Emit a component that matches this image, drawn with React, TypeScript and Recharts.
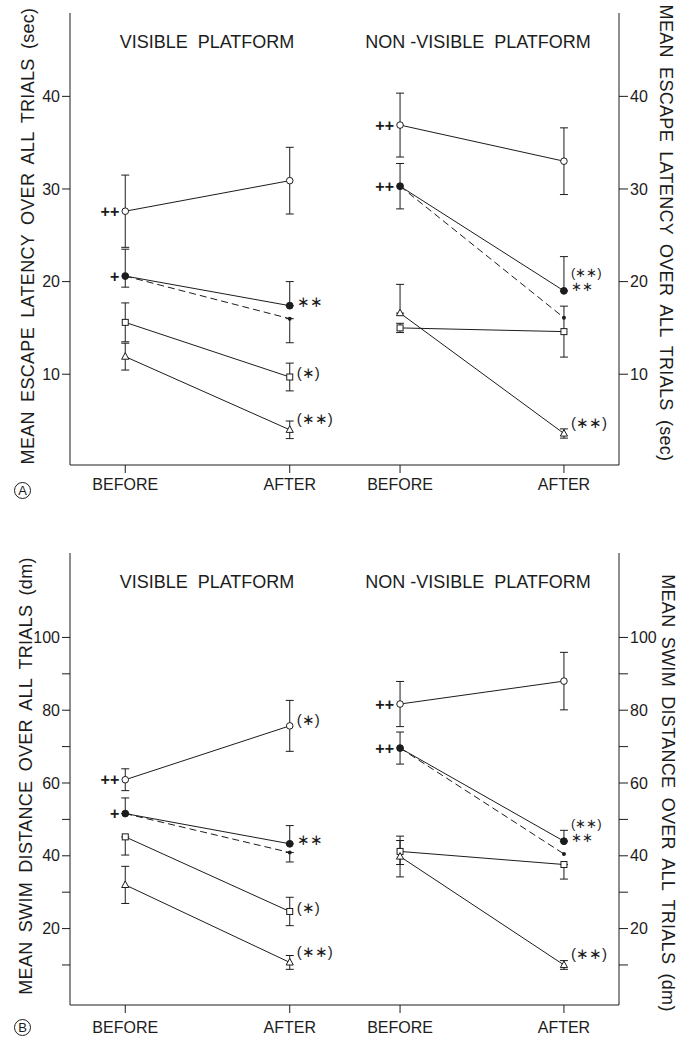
import React from 'react';
import { LineChart, Line, XAxis, YAxis, ErrorBar, LabelList } from 'recharts';

const FONT = '"Liberation Sans", Arial, sans-serif';
const INK = '#1c1c1c';

// x axis phases
const phases = ['BEFORE', 'AFTER'];

// y ticks
const latencyTicks = [10, 20, 30, 40];
const distanceTicks = [10, 20, 30, 40, 50, 60, 70, 80, 90, 100];
const distanceLabels = [20, 40, 60, 80, 100];

// (A) escape latency, visible platform
const latVisOpen = [27.6, 30.9];
const latVisOpenErr = [3.9, 3.6];
const latVisOpenNote = ['++', ''];
const latVisFilled = [20.6, 17.4];
const latVisFilledErr = [[1.2, 2.9], [0, 2.6]];
const latVisFilledNote = ['+', '∗∗'];
const latVisDashed = [20.6, 16.0];
const latVisDashedErr = [null, [2.6, 0]];
const latVisSquare = [15.6, 9.7];
const latVisSquareErr = [2.1, 1.5];
const latVisSquareNote = ['', '(∗)'];
const latVisTriangle = [11.9, 4.0];
const latVisTriangleErr = [1.45, 0.95];
const latVisTriangleNote = ['', '(∗∗)'];

// (A) escape latency, non-visible platform
const latNonOpen = [36.9, 33.0];
const latNonOpenErr = [3.45, 3.6];
const latNonOpenNote = ['++', ''];
const latNonFilled = [30.3, 19.0];
const latNonFilledErr = [2.45, [0, 3.7]];
const latNonFilledNote = ['++', '(∗∗)\n∗∗'];
const latNonDashed = [30.3, 16.1];
const latNonDashedErr = [null, null];
const latNonSquare = [15.0, 14.6];
const latNonSquareErr = [0.5, 2.75];
const latNonTriangle = [16.6, 3.6];
const latNonTriangleErr = [[0, 3.1], 0.5];
const latNonTriangleNote = ['', '(∗∗)'];

// (B) swim distance, visible platform
const distVisOpen = [60.9, 75.7];
const distVisOpenErr = [3.0, 7.0];
const distVisOpenNote = ['++', '(∗)'];
const distVisFilled = [51.6, 43.3];
const distVisFilledErr = [[0, 4.3], [0, 5.0]];
const distVisFilledNote = ['+', '∗∗'];
const distVisDashed = [51.6, 40.9];
const distVisDashedErr = [null, [2.6, 0]];
const distVisSquare = [45.2, 24.7];
const distVisSquareErr = [[5.0, 0], 3.9];
const distVisSquareNote = ['', '(∗)'];
const distVisTriangle = [32.0, 10.7];
const distVisTriangleErr = [5.1, 1.9];
const distVisTriangleNote = ['', '(∗∗)'];

// (B) swim distance, non-visible platform
const distNonOpen = [81.7, 88.0];
const distNonOpenErr = [6.2, 7.9];
const distNonOpenNote = ['++', ''];
const distNonFilled = [69.6, 44.0];
const distNonFilledErr = [4.4, [0, 3.0]];
const distNonFilledNote = ['++', '(∗∗)\n∗∗'];
const distNonDashed = [69.6, 40.5];
const distNonDashedErr = [null, null];
const distNonSquare = [41.2, 37.6];
const distNonSquareErr = [[3.6, 3.0], [4.0, 0]];
const distNonTriangle = [39.8, 10.0];
const distNonTriangleErr = [5.6, 1.2];
const distNonTriangleNote = ['', '(∗∗)'];

type Series = { key: string; values: number[]; errors: any[]; notes?: string[] };

const toRows = (series: Series[]) =>
  phases.map((phase, i) => {
    const row: any = { x: i, phase };
    series.forEach((s) => {
      row[s.key] = s.values[i];
      row[`${s.key}Err`] = s.errors[i];
      row[`${s.key}Note`] = s.notes ? s.notes[i] : '';
    });
    return row;
  });

const latVisRows = toRows([
  { key: 'open', values: latVisOpen, errors: latVisOpenErr, notes: latVisOpenNote },
  { key: 'filled', values: latVisFilled, errors: latVisFilledErr, notes: latVisFilledNote },
  { key: 'dashed', values: latVisDashed, errors: latVisDashedErr },
  { key: 'square', values: latVisSquare, errors: latVisSquareErr, notes: latVisSquareNote },
  { key: 'triangle', values: latVisTriangle, errors: latVisTriangleErr, notes: latVisTriangleNote },
]);
const latNonRows = toRows([
  { key: 'open', values: latNonOpen, errors: latNonOpenErr, notes: latNonOpenNote },
  { key: 'filled', values: latNonFilled, errors: latNonFilledErr, notes: latNonFilledNote },
  { key: 'dashed', values: latNonDashed, errors: latNonDashedErr },
  { key: 'square', values: latNonSquare, errors: latNonSquareErr },
  { key: 'triangle', values: latNonTriangle, errors: latNonTriangleErr, notes: latNonTriangleNote },
]);
const distVisRows = toRows([
  { key: 'open', values: distVisOpen, errors: distVisOpenErr, notes: distVisOpenNote },
  { key: 'filled', values: distVisFilled, errors: distVisFilledErr, notes: distVisFilledNote },
  { key: 'dashed', values: distVisDashed, errors: distVisDashedErr },
  { key: 'square', values: distVisSquare, errors: distVisSquareErr, notes: distVisSquareNote },
  { key: 'triangle', values: distVisTriangle, errors: distVisTriangleErr, notes: distVisTriangleNote },
]);
const distNonRows = toRows([
  { key: 'open', values: distNonOpen, errors: distNonOpenErr, notes: distNonOpenNote },
  { key: 'filled', values: distNonFilled, errors: distNonFilledErr, notes: distNonFilledNote },
  { key: 'dashed', values: distNonDashed, errors: distNonDashedErr },
  { key: 'square', values: distNonSquare, errors: distNonSquareErr },
  { key: 'triangle', values: distNonTriangle, errors: distNonTriangleErr, notes: distNonTriangleNote },
]);

// markers
const OpenCircle = (p: any) => (
  <circle key={`oc${p.index}`} cx={p.cx} cy={p.cy} r={3.3} fill="#fff" stroke={INK} strokeWidth={1} />
);
const FilledCircle = (p: any) => (
  <circle key={`fc${p.index}`} cx={p.cx} cy={p.cy} r={3.4} fill={INK} stroke={INK} strokeWidth={1} />
);
const SmallDot = (p: any) => <circle key={`sd${p.index}`} cx={p.cx} cy={p.cy} r={2} fill={INK} />;
const OpenSquare = (p: any) => (
  <rect key={`sq${p.index}`} x={p.cx - 3} y={p.cy - 3} width={6} height={6} fill="#fff" stroke={INK} strokeWidth={1} />
);
const OpenTriangle = (p: any) => (
  <polygon
    key={`tr${p.index}`}
    points={`${p.cx},${p.cy - 4} ${p.cx - 3.6},${p.cy + 2.6} ${p.cx + 3.6},${p.cy + 2.6}`}
    fill="#fff"
    stroke={INK}
    strokeWidth={1}
  />
);

const look: Record<string, { dot: any; dash?: string; lift: number }> = {
  open: { dot: OpenCircle, lift: -6 },
  filled: { dot: FilledCircle, lift: -4 },
  dashed: { dot: SmallDot, dash: '7 4', lift: -4 },
  square: { dot: OpenSquare, lift: -4 },
  triangle: { dot: OpenTriangle, lift: -11 },
};

const makeNote = (lift: number) => (props: any) => {
  const { x, y, value, index } = props;
  if (!value) return null;
  const before = index === 0;
  const lines = String(value).split('\n');
  const stacked = lines.length > 1;
  const gap = 14;
  const tx = before ? x - 6 : x + 7;
  const center = before ? y : y + lift - (lines.length - 1) * gap;
  const size = before ? 16 : stacked ? 13 : 15;
  return (
    <text
      key={`n${index}`}
      textAnchor={before ? 'end' : 'start'}
      fill={INK}
      fontFamily={FONT}
      fontSize={size}
      fontWeight={before ? 700 : 400}
    >
      {lines.map((ln, k) => (
        <tspan key={k} x={tx} y={center + k * gap + size * 0.35}>
          {ln}
        </tspan>
      ))}
    </text>
  );
};

const axisTitle = (text: string, dx: number, dy: number, rotate: number) => (props: any) => {
  const vb = props.viewBox;
  const x = vb.x + dx;
  const y = vb.y + vb.height / 2 + dy;
  return (
    <text
      x={x}
      y={y}
      transform={`rotate(${rotate}, ${x}, ${y})`}
      textAnchor="middle"
      dominantBaseline="central"
      fill={INK}
      fontFamily={FONT}
      fontSize={18}
      style={{ letterSpacing: 0.3, wordSpacing: 4 }}
    >
      {text}
    </text>
  );
};

const X_DOMAIN = [-0.336, 1.336];
const PLOT_H = 452;

function Subplot(props: any) {
  const { side, top, rows, yDomain, yTicks, labelTicks, title, titleCenter, axisText, titleDx, titleDy, xAxisHeight, xTickMargin } = props;
  const isLeft = side === 'left';
  const left = isLeft ? 0 : 340;
  const width = 350;
  const height = 13 + PLOT_H + xAxisHeight;
  const tickFont = { fill: INK, fontSize: 16, fontFamily: FONT };
  const labelFmt = (v: any) => (labelTicks.includes(Number(v)) ? String(v) : '');
  const blank = () => '';
  const dataAxis = isLeft ? 'l' : 'r';

  return (
    <div style={{ position: 'absolute', left, top, width, height }}>
      <LineChart
        width={width}
        height={height}
        data={rows}
        margin={{ top: 13, right: isLeft ? 5 : 0, bottom: 0, left: isLeft ? 0 : 5 }}
      >
        <XAxis
          xAxisId="top"
          orientation="top"
          dataKey="x"
          type="number"
          domain={X_DOMAIN}
          height={0}
          tick={false}
          tickLine={false}
          axisLine={{ stroke: INK }}
        />
        <XAxis
          dataKey="x"
          type="number"
          domain={X_DOMAIN}
          ticks={[0, 1]}
          interval={0}
          tickFormatter={(v: number) => phases[v]}
          height={xAxisHeight}
          tickSize={8}
          tickMargin={xTickMargin}
          axisLine={{ stroke: INK }}
          tickLine={{ stroke: INK }}
          tick={{ fill: INK, fontSize: 16, fontFamily: FONT }}
        />
        <YAxis
          yAxisId="l"
          orientation="left"
          type="number"
          domain={yDomain}
          ticks={yTicks}
          interval={0}
          width={isLeft ? 70 : 0}
          mirror={!isLeft}
          tickSize={isLeft ? 8 : 11}
          tickMargin={2}
          tickFormatter={isLeft ? labelFmt : blank}
          axisLine={{ stroke: INK }}
          tickLine={{ stroke: INK }}
          tick={tickFont}
          label={isLeft ? axisTitle(axisText, titleDx, titleDy, -90) : undefined}
        />
        <YAxis
          yAxisId="r"
          orientation="right"
          type="number"
          domain={yDomain}
          ticks={yTicks}
          interval={0}
          width={isLeft ? 0 : 71}
          mirror={isLeft}
          tickSize={isLeft ? 10 : 9}
          tickMargin={2}
          tickFormatter={isLeft ? blank : labelFmt}
          axisLine={{ stroke: INK }}
          tickLine={{ stroke: INK }}
          tick={tickFont}
          label={isLeft ? undefined : axisTitle(axisText, titleDx, titleDy, 90)}
        />
        {['open', 'filled', 'dashed', 'square', 'triangle'].map((key) => (
          <Line
            key={key}
            yAxisId={dataAxis}
            dataKey={key}
            stroke={INK}
            strokeWidth={1}
            strokeDasharray={look[key].dash}
            dot={look[key].dot}
            activeDot={false}
            isAnimationActive={false}
          >
            <ErrorBar
              dataKey={`${key}Err`}
              direction="y"
              width={4}
              stroke={INK}
              strokeWidth={1}
              isAnimationActive={false}
            />
            <LabelList dataKey={`${key}Note`} content={makeNote(look[key].lift)} />
          </Line>
        ))}
      </LineChart>
      <div
        style={{
          position: 'absolute',
          top: 33,
          left: titleCenter - 150,
          width: 300,
          textAlign: 'center',
          fontFamily: FONT,
          fontSize: 18,
          lineHeight: 1,
          color: INK,
          whiteSpace: 'pre',
        }}
      >
        {title}
      </div>
    </div>
  );
}

const Circled = ({ letter, cx, cy }: any) => (
  <div
    style={{
      position: 'absolute',
      left: cx - 8,
      top: cy - 8,
      width: 15,
      height: 15,
      border: `1px solid ${INK}`,
      borderRadius: '50%',
      fontFamily: FONT,
      fontSize: 13,
      lineHeight: '15px',
      textAlign: 'center',
      color: INK,
    }}
  >
    {letter}
  </div>
);

export default function App() {
  const latencyTitle = 'MEAN ESCAPE LATENCY OVER ALL TRIALS (sec)';
  const distanceTitle = 'MEAN SWIM DISTANCE OVER ALL TRIALS (dm)';
  return (
    <div
      style={{
        position: 'absolute',
        left: 0,
        top: 0,
        width: 690,
        height: 1037,
        overflow: 'hidden',
        background: '#fff',
      }}
    >
      <Subplot
        side="left"
        top={0}
        rows={latVisRows}
        yDomain={[0.2, 49]}
        yTicks={latencyTicks}
        labelTicks={latencyTicks}
        title="VISIBLE  PLATFORM"
        titleCenter={207}
        axisText={latencyTitle}
        titleDx={28}
        titleDy={-3}
        xAxisHeight={35}
        xTickMargin={6}
      />
      <Subplot
        side="right"
        top={0}
        rows={latNonRows}
        yDomain={[0.2, 49]}
        yTicks={latencyTicks}
        labelTicks={latencyTicks}
        title="NON -VISIBLE  PLATFORM"
        titleCenter={138}
        axisText={latencyTitle}
        titleDx={47}
        titleDy={-6}
        xAxisHeight={35}
        xTickMargin={6}
      />
      <Subplot
        side="left"
        top={540}
        rows={distVisRows}
        yDomain={[-1, 123.2]}
        yTicks={distanceTicks}
        labelTicks={distanceLabels}
        title="VISIBLE  PLATFORM"
        titleCenter={207}
        axisText={distanceTitle}
        titleDx={26}
        titleDy={-3}
        xAxisHeight={32}
        xTickMargin={9}
      />
      <Subplot
        side="right"
        top={540}
        rows={distNonRows}
        yDomain={[-1, 123.2]}
        yTicks={distanceTicks}
        labelTicks={distanceLabels}
        title="NON -VISIBLE  PLATFORM"
        titleCenter={138}
        axisText={distanceTitle}
        titleDx={49}
        titleDy={14}
        xAxisHeight={32}
        xTickMargin={9}
      />
      <Circled letter="A" cx={22} cy={490} />
      <Circled letter="B" cx={22} cy={1027} />
    </div>
  );
}
